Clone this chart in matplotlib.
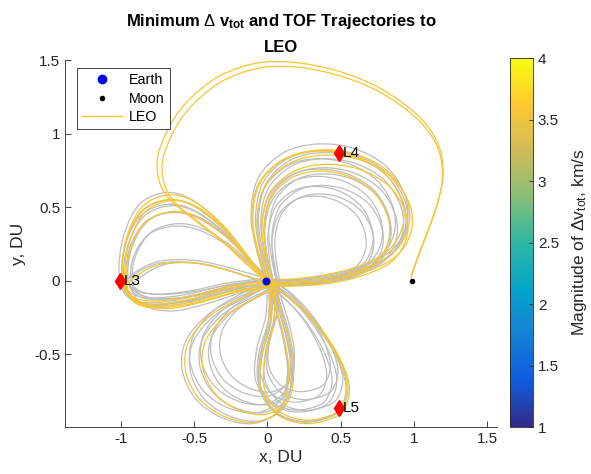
import numpy as np
import matplotlib.pyplot as plt
from matplotlib.path import Path
from matplotlib.patches import PathPatch
from matplotlib.transforms import Affine2D
from matplotlib.colors import LinearSegmentedColormap, Normalize
from matplotlib.lines import Line2D
import matplotlib.cm as cm

plt.rcParams['font.family'] = ['Liberation Sans', 'DejaVu Sans']
plt.rcParams['mathtext.fontset'] = 'custom'
plt.rcParams['mathtext.rm'] = 'Liberation Sans'
plt.rcParams['mathtext.it'] = 'Liberation Sans:italic'
plt.rcParams['mathtext.bf'] = 'Liberation Sans:bold'

# ---- data ----
mu = 0.01215
earth_x, earth_y = [-mu], [0.0]
moon_x, moon_y = [1 - mu], [0.0]
lagrange_names = ['L3', 'L4', 'L5']
lagrange_x = [-1.005, 0.4878, 0.4878]
lagrange_y = [0.0, 0.866, -0.866]

# waypoints of each trajectory family, relative to Earth
left_x = [0, -0.12, -0.3, -0.5, -0.68, -0.86, -0.97, -1.0, -0.95, -0.8, -0.55, -0.3, 0]
left_y = [0, 0.15, 0.38, 0.55, 0.6, 0.52, 0.3, 0.05, -0.1, -0.15, -0.12, -0.05, 0]
lens_x = [0, -0.25, -0.5, -0.75, -0.93, -0.99, -0.9, -0.7, -0.45, -0.2, 0]
lens_y = [0, 0.08, 0.14, 0.14, 0.06, -0.02, -0.12, -0.15, -0.1, -0.03, 0]
upper_x = [0, -0.06, -0.1, -0.05, 0.12, 0.35, 0.6, 0.82, 0.95, 0.96, 0.85, 0.6, 0.3, 0]
upper_y = [0, 0.2, 0.45, 0.7, 0.87, 0.93, 0.9, 0.78, 0.58, 0.38, 0.2, 0.08, 0.02, 0]
lowleft_x = [0, -0.18, -0.4, -0.56, -0.59, -0.5, -0.32, -0.1, 0.08, 0.13, 0.1, 0.04, 0]
lowleft_y = [0, -0.08, -0.2, -0.38, -0.58, -0.78, -0.91, -0.95, -0.85, -0.62, -0.38, -0.15, 0]
lowright_x = [0, 0.0, -0.06, -0.06, 0.05, 0.22, 0.38, 0.5, 0.54, 0.45, 0.28, 0.1, 0]
lowright_y = [0, -0.25, -0.5, -0.72, -0.88, -0.94, -0.92, -0.85, -0.68, -0.45, -0.22, -0.06, 0]
bigloop_x = [0.99, 1.05, 1.12, 1.18, 1.21, 1.18, 1.08, 0.92, 0.72, 0.48, 0.2, -0.06, -0.3,
             -0.47, -0.6, -0.69, -0.74, -0.72, -0.64, -0.48, -0.3, -0.15, 0]
bigloop_y = [0.03, 0.2, 0.38, 0.56, 0.74, 0.92, 1.08, 1.22, 1.34, 1.43, 1.485, 1.48, 1.4,
             1.28, 1.14, 0.98, 0.82, 0.66, 0.54, 0.41, 0.27, 0.13, 0]

# strands: (x scale, y scale, rotation deg, x shift, y shift) for each family
gray_left = [(1.0, 1.0, 0, 0, 0), (1.0, 0.95, 0, 0.02, -0.02), (1.0, 0.9, 0, 0.03, -0.03),
             (0.99, 0.85, 0, 0.01, 0.01), (0.98, 0.8, 0, 0.04, -0.01), (0.97, 0.74, 0, 0.02, 0.02),
             (0.96, 0.68, 0, 0.05, -0.02), (0.95, 0.62, 0, 0.03, 0.0)]
yellow_left = [(1.0, 0.99, 0, 0.02, -0.01), (1.0, 0.96, 0, 0.04, -0.03), (0.99, 0.92, 0, 0.01, 0.0),
               (1.0, 0.87, 1, 0.05, -0.04)]
gray_lens = [(1.0, 1.0, 0, 0.03, -0.02), (0.98, 1.1, 0, 0.06, -0.04), (0.97, 0.9, 0, 0.02, 0.01)]
yellow_lens = [(1.0, 1.05, 0, 0.05, -0.03)]
gray_upper = [(1.0, 1.0, 0, 0, 0), (0.97, 0.97, -1, 0.02, -0.01), (0.94, 0.95, -2, 0.03, 0.0),
              (0.91, 0.92, -1, 0.05, -0.02), (0.88, 0.9, -3, 0.01, 0.01), (0.85, 0.87, -2, 0.06, -0.03),
              (0.82, 0.84, -4, 0.03, 0.0), (0.78, 0.82, -3, 0.08, -0.02), (0.75, 0.78, -5, 0.04, 0.01),
              (0.71, 0.75, -4, 0.09, -0.03), (0.67, 0.72, -6, 0.05, 0.0), (0.63, 0.68, -5, 0.1, -0.02),
              (0.6, 0.64, -7, 0.07, 0.01)]
yellow_upper = [(1.0, 0.97, 1, 0.02, -0.02), (0.99, 0.95, 0, 0.04, -0.03), (0.97, 0.94, 1, 0.01, 0.0),
                (0.93, 0.9, -1, 0.06, -0.04), (0.8, 0.84, -3, 0.05, -0.02)]
gray_lowleft = [(1.0, 1.0, 0, 0.02, -0.02), (0.96, 0.97, 1, 0.04, -0.03), (0.92, 0.94, 2, 0.01, 0.0),
                (0.88, 0.9, 1, 0.06, -0.04), (0.84, 0.87, 3, 0.03, -0.01), (0.8, 0.83, 2, 0.07, -0.05),
                (0.75, 0.8, 4, 0.04, -0.02), (0.7, 0.76, 3, 0.08, -0.03)]
yellow_lowleft = [(0.98, 0.98, 0, 0.03, -0.03), (0.86, 0.9, 2, 0.06, -0.05)]
gray_lowright = [(1.0, 1.0, 0, 0.02, -0.02), (0.96, 0.97, -1, 0.04, -0.04), (0.92, 0.94, -2, 0.01, 0.0),
                 (0.88, 0.9, -1, 0.06, -0.03), (0.84, 0.87, -3, 0.03, -0.05), (0.8, 0.83, -2, 0.08, -0.02),
                 (0.75, 0.8, -4, 0.05, -0.06), (0.7, 0.76, -3, 0.09, -0.03)]
yellow_lowright = [(1.0, 1.0, 0, 0.03, -0.03), (0.93, 0.95, -1, 0.06, -0.05)]
yellow_bigloop = [(1.0, 1.0, 0, 0, 0), (0.98, 0.985, 0, 0.02, -0.01)]

xticks = [-1, -0.5, 0, 0.5, 1, 1.5]
xtick_labels = ['-1', '-0.5', '0', '0.5', '1', '1.5']
yticks = [-0.5, 0, 0.5, 1, 1.5]
ytick_labels = ['-0.5', '0', '0.5', '1', '1.5']
cbar_ticks = [1, 1.5, 2, 2.5, 3, 3.5, 4]
cbar_labels = ['1', '1.5', '2', '2.5', '3', '3.5', '4']

parula = LinearSegmentedColormap.from_list(
    'parula', ['#352a87', '#0f5cdd', '#1481d6', '#06a4ca', '#2eb7a4',
               '#87bf77', '#d1bb59', '#fec832', '#f9fb0e'])

GRAY = '#bebebe'
YELLOW = '#f6c631'
AXCOL = '#262626'


def smooth_path(xs, ys):
    # Catmull-Rom through the waypoints, handed to matplotlib as cubic Beziers
    p = np.column_stack([xs, ys]).astype(float)
    pe = np.vstack([p[0], p, p[-1]])
    verts = [p[0]]
    codes = [Path.MOVETO]
    for i in range(len(p) - 1):
        p0, p1, p2, p3 = pe[i], pe[i + 1], pe[i + 2], pe[i + 3]
        verts += [p1 + (p2 - p0) / 6, p2 - (p3 - p1) / 6, p2]
        codes += [Path.CURVE4] * 3
    return Path(verts, codes)


def draw_family(ax, xs, ys, strands, color, lw, z):
    path = smooth_path(xs, ys)
    for sx, sy, rot, dx, dy in strands:
        tr = (Affine2D().scale(sx, sy).rotate_deg(rot)
              .translate(earth_x[0] + dx, earth_y[0] + dy) + ax.transData)
        ax.add_patch(PathPatch(path, facecolor='none', edgecolor=color, lw=lw,
                               transform=tr, zorder=z))


fig = plt.figure(figsize=(5.91, 4.74), dpi=100)
ax = fig.add_axes([0.110, 0.099, 0.731, 0.774])

families = [(left_x, left_y), (lens_x, lens_y), (upper_x, upper_y),
            (lowleft_x, lowleft_y), (lowright_x, lowright_y)]
for (fx, fy), strands in zip(families, [gray_left, gray_lens, gray_upper, gray_lowleft, gray_lowright]):
    draw_family(ax, fx, fy, strands, GRAY, 0.9, 2)
for (fx, fy), strands in zip(families, [yellow_left, yellow_lens, yellow_upper, yellow_lowleft, yellow_lowright]):
    draw_family(ax, fx, fy, strands, YELLOW, 0.9, 3)
draw_family(ax, bigloop_x, bigloop_y, yellow_bigloop, YELLOW, 0.9, 3)

ax.plot(earth_x, earth_y, 'o', color='blue', ms=5, mec='#1a1a8c', mew=0.8, zorder=5)
ax.plot(moon_x, moon_y, '.', color='k', ms=6, zorder=5)
ax.plot(lagrange_x, lagrange_y, 'd', color='red', ms=8, ls='none', zorder=5)
for name, lx, ly in zip(lagrange_names, lagrange_x, lagrange_y):
    ax.annotate(name, (lx, ly), xytext=(3, 0), textcoords='offset points',
                ha='left', va='center', fontsize=11, zorder=6)

ax.set_xlim(-1.38, 1.565)
ax.set_ylim(-0.995, 1.5)
ax.set_xticks(xticks)
ax.set_xticklabels(xtick_labels)
ax.set_yticks(yticks)
ax.set_yticklabels(ytick_labels)
ax.tick_params(direction='in', length=4, width=0.6, labelsize=11, colors=AXCOL)
for side in ['top', 'right']:
    ax.spines[side].set_visible(False)
for side in ['left', 'bottom']:
    ax.spines[side].set_color(AXCOL)
    ax.spines[side].set_linewidth(0.6)
ax.set_xlabel('x, DU', fontsize=12.5, color=AXCOL, labelpad=3)
ax.set_ylabel('y, DU', fontsize=12.5, color=AXCOL, labelpad=6)
ax.set_title('Minimum $\\Delta$ v$_{\\mathbf{tot}}$ and TOF Trajectories to\nLEO',
             fontsize=12, fontweight='bold', linespacing=1.75, pad=6)

handles = [Line2D([], [], marker='o', ls='none', color='blue', ms=6),
           Line2D([], [], marker='.', ls='none', color='k', ms=6),
           Line2D([], [], color=YELLOW, lw=1)]
leg = ax.legend(handles, ['Earth', 'Moon', 'LEO'], loc='upper left',
                bbox_to_anchor=(0.028, 0.978), borderaxespad=0, fontsize=10.3,
                handlelength=2.8, fancybox=False, framealpha=1, edgecolor=AXCOL,
                borderpad=0.35, labelspacing=0.3, handletextpad=0.5)
leg.get_frame().set_linewidth(0.6)

cax = fig.add_axes([0.863, 0.099, 0.039, 0.778])
sm = cm.ScalarMappable(norm=Normalize(1, 4), cmap=parula)
cb = fig.colorbar(sm, cax=cax)
cb.set_ticks(cbar_ticks)
cb.set_ticklabels(cbar_labels)
cb.ax.tick_params(direction='in', length=3, width=0.6, labelsize=11, colors=AXCOL)
cb.outline.set_linewidth(0.6)
cb.outline.set_edgecolor(AXCOL)
cb.set_label('Magnitude of $\\Delta$v$_{\\rm tot}$, km/s', fontsize=12.5, color=AXCOL, labelpad=8)

fig.savefig('out.png', dpi=100)
